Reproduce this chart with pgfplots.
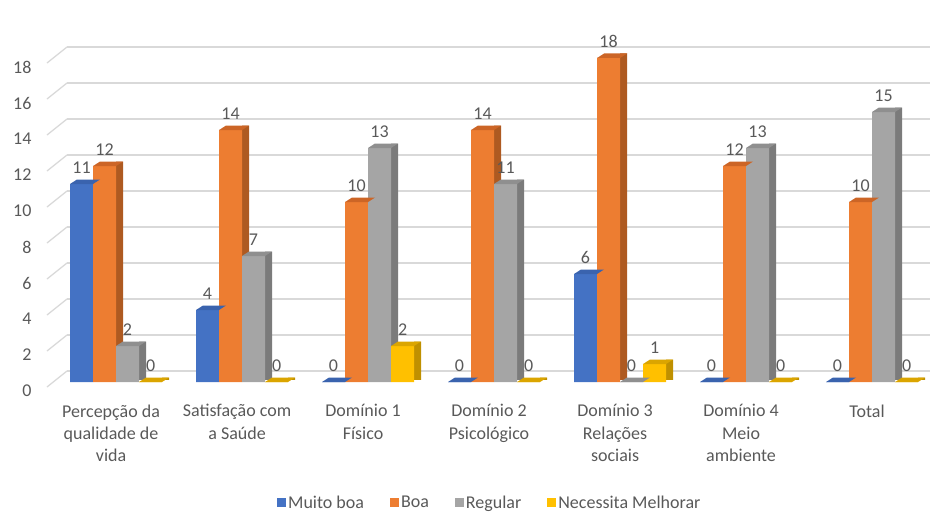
\documentclass[border=0pt]{standalone}
\usepackage{pgfplots}
\pgfplotsset{compat=1.18}
\usepackage{pgfplotstable}
\usepackage{fontspec}
\setmainfont{Carlito}
\definecolor{blueF}{HTML}{4472C4}
\definecolor{blueT}{HTML}{3A63AE}
\definecolor{blueS}{HTML}{2F5597}
\definecolor{orF}{HTML}{ED7D31}
\definecolor{orT}{HTML}{CC6526}
\definecolor{orS}{HTML}{AE5A21}
\definecolor{grF}{HTML}{A5A5A5}
\definecolor{grT}{HTML}{8F8F8F}
\definecolor{grS}{HTML}{7B7B7B}
\definecolor{yeF}{HTML}{FFC000}
\definecolor{yeT}{HTML}{DBA500}
\definecolor{yeS}{HTML}{BF9000}
\definecolor{txt}{HTML}{595959}
\definecolor{gridc}{HTML}{D9D9D9}
\newcommand\declaretop[2]{%
 \pgfdeclareplotmark{#1}{%
  \pgfpathmoveto{\pgfqpoint{-11.5pt}{0pt}}%
  \pgfpathlineto{\pgfqpoint{11.5pt}{0pt}}%
  \pgfpathlineto{\pgfqpoint{18.5pt}{4.5pt}}%
  \pgfpathlineto{\pgfqpoint{-4.5pt}{4.5pt}}%
  \pgfpathclose
  \pgfsetfillcolor{#2}\pgfusepath{fill}%
 }}
\declaretop{topA}{blueT}
\declaretop{topB}{orT}
\declaretop{topC}{grT}
\declaretop{topD}{yeT}
\newcommand\fs{\fontsize{18}{22.3}\selectfont}
\pgfplotsset{
  front/.style n args={2}{ybar, bar width=23pt, bar shift=0pt, draw=none, fill=#1,
    mark=#2,
    nodes near coords,
    every node near coord/.append style={font=\fs, text=txt, anchor=south, yshift=7pt},
    legend image code/.code={\fill[#1] (0pt,-4.5pt) rectangle (9pt,4.5pt);}},
  side/.style={ybar, bar width=7pt, bar shift=15pt, draw=none, fill=#1, yshift=2.25pt, forget plot},
}
\pgfplotstableread{
x mb boa reg nm
0 11 12 2 0
1 4 14 7 0
2 0 10 13 2
3 0 14 11 0
4 6 18 0 1
5 0 12 13 0
6 0 10 15 0
}\data
\begin{document}
\begin{tikzpicture}
\useasboundingbox (0,0) rectangle (939pt,-516pt);
\begin{axis}[
  at={(47pt,-382pt)}, anchor=south west,
  x=126pt, y=18pt,
  xmin=-0.548, xmax=6.302, ymin=0, ymax=18.6,
  clip=false,
  axis line style={draw=none}, major tick length=0pt,
  ymajorgrids, major grid style={draw=gridc, line width=1.3pt, xshift=20pt, yshift=11pt},
  ytick={0,2,4,6,8,10,12,14,16,18},
  xtick={0,1,2,3,4,5,6},
  xticklabels={{Percepção da\\qualidade de\\vida},{Satisfação com\\a Saúde},{Domínio 1\\Físico},{Domínio 2\\Psicológico},{Domínio 3\\Relações\\sociais},{Domínio 4\\Meio\\ambiente},{Total}},
  xticklabel style={align=center, font=\fs, text=txt, xshift=-5pt, yshift=-19pt},
  yticklabel style={font=\fs, text=txt, anchor=east, xshift=-12pt, yshift=-9pt},
  /pgf/number format/assume math mode=true,
  legend style={draw=none, fill=none, at={(0.513,-0.361)}, anchor=center, legend columns=4, font=\fs, text=txt,
    /tikz/every even column/.append style={column sep=24pt}},
  legend cell align=left,
]
\pgfplotsinvokeforeach{0,2,4,6,8,10,12,14,16,18}{
  \draw[gridc, line width=1.3pt] ([yshift=-5pt]axis cs:-0.548,#1) -- ([xshift=20pt,yshift=11pt]axis cs:-0.548,#1);
}
\addplot[side=blueS] table[x expr=\thisrow{x}-0.274, y expr=\thisrow{mb}+0.125] {\data};
\addplot[front={blueF}{topA}] table[x expr=\thisrow{x}-0.274, y=mb] {\data};
\addplot[side=orS] table[x expr=\thisrow{x}-0.091, y expr=\thisrow{boa}+0.125] {\data};
\addplot[front={orF}{topB}] table[x expr=\thisrow{x}-0.091, y=boa] {\data};
\addplot[side=grS] table[x expr=\thisrow{x}+0.091, y expr=\thisrow{reg}+0.125] {\data};
\addplot[front={grF}{topC}] table[x expr=\thisrow{x}+0.091, y=reg] {\data};
\addplot[side=yeS] table[x expr=\thisrow{x}+0.274, y expr=\thisrow{nm}+0.125] {\data};
\addplot[front={yeF}{topD}] table[x expr=\thisrow{x}+0.274, y=nm] {\data};
\legend{Muito boa, Boa, Regular, Necessita Melhorar}
\end{axis}
\end{tikzpicture}
\end{document}
